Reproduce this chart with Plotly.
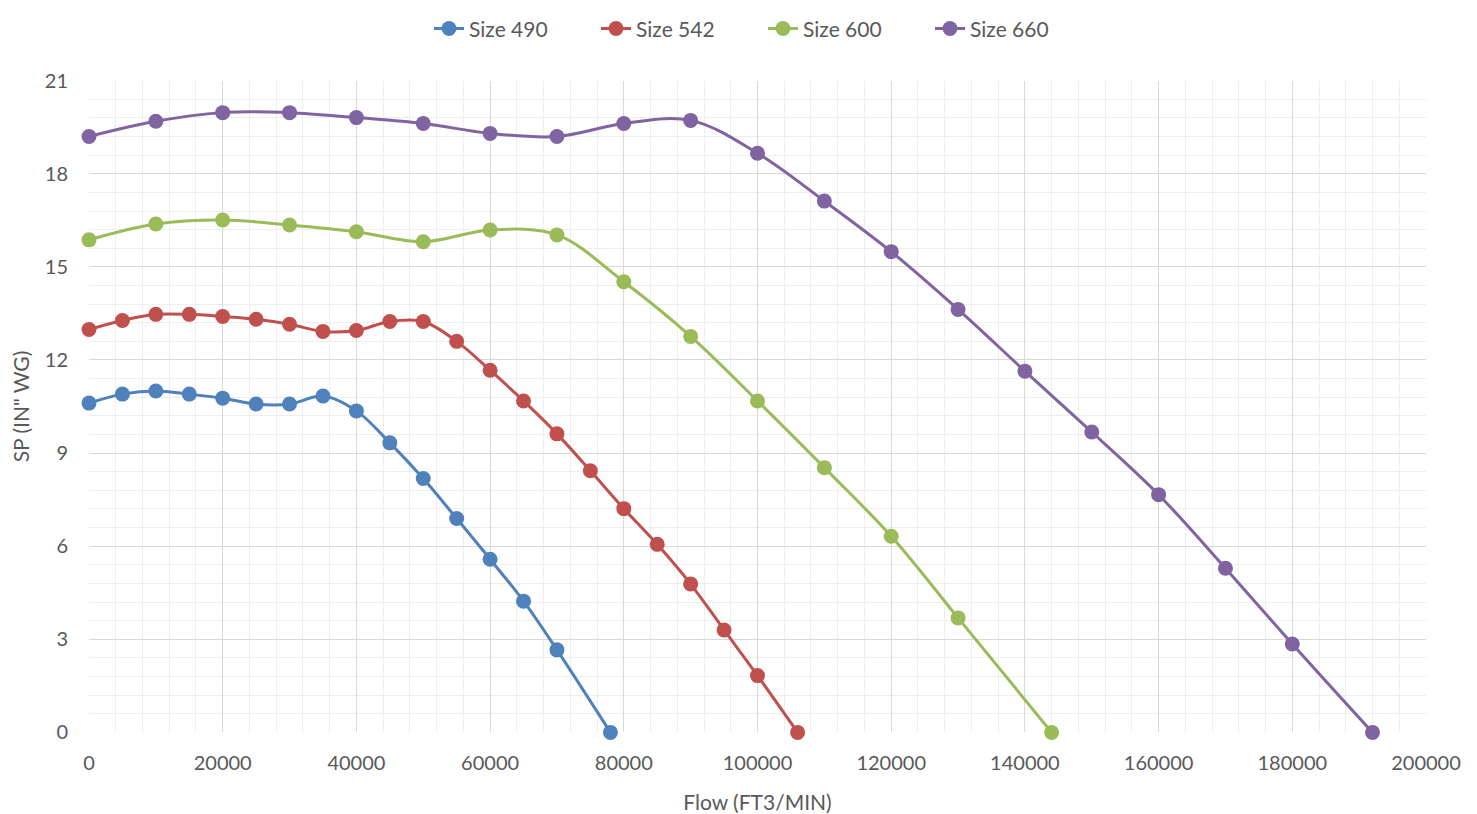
import plotly.graph_objects as go

flow_490 = [0, 5000, 10000, 15000, 20000, 25000, 30000, 35000, 40000, 45000, 50000, 55000, 60000, 65000, 70000, 78000]
sp_490 = [10.61, 10.90, 11.00, 10.90, 10.77, 10.58, 10.58, 10.84, 10.36, 9.33, 8.18, 6.89, 5.58, 4.23, 2.66, 0.0]

flow_542 = [0, 5000, 10000, 15000, 20000, 25000, 30000, 35000, 40000, 45000, 50000, 55000, 60000, 65000, 70000,
            75000, 80000, 85000, 90000, 95000, 100000, 106000]
sp_542 = [12.98, 13.27, 13.47, 13.47, 13.40, 13.31, 13.15, 12.92, 12.95, 13.24, 13.24, 12.60, 11.67, 10.68, 9.62,
          8.43, 7.21, 6.06, 4.78, 3.30, 1.83, 0.0]

flow_600 = [0, 10000, 20000, 30000, 40000, 50000, 60000, 70000, 80000, 90000, 100000, 110000, 120000, 130000, 144000]
sp_600 = [15.87, 16.38, 16.51, 16.35, 16.13, 15.81, 16.19, 16.03, 14.52, 12.76, 10.68, 8.53, 6.32, 3.69, 0.0]

flow_660 = [0, 10000, 20000, 30000, 40000, 50000, 60000, 70000, 80000, 90000, 100000, 110000, 120000, 130000,
            140000, 150000, 160000, 170000, 180000, 192000]
sp_660 = [19.20, 19.69, 19.97, 19.97, 19.81, 19.62, 19.30, 19.20, 19.62, 19.72, 18.66, 17.12, 15.49, 13.63,
          11.64, 9.68, 7.66, 5.29, 2.85, 0.0]

series = [
    ("Size 490", flow_490, sp_490, "#4F81BD"),
    ("Size 542", flow_542, sp_542, "#C0504D"),
    ("Size 600", flow_600, sp_600, "#9BBB59"),
    ("Size 660", flow_660, sp_660, "#8064A2"),
]

FONT = "Lato, 'Open Sans', sans-serif"
TXT = "#595959"

W, H = 1469, 806
PL, PR, PT, PB = 81, 1418, 69, 724  # plot area edges in figure pixels

fig = go.Figure()
for name, xs, ys, col in series:
    fig.add_trace(go.Scatter(
        x=xs, y=ys, name=name, mode="lines+markers",
        line=dict(color=col, width=3, shape="spline", smoothing=1),
        marker=dict(color=col, size=15),
        cliponaxis=False,
    ))

fig.update_layout(
    autosize=False,
    width=W, height=H,
    margin=dict(l=0, r=0, t=0, b=0, pad=0),
    paper_bgcolor="white", plot_bgcolor="white",
    font=dict(family=FONT, size=20, color=TXT),
    showlegend=True,
    legend=dict(orientation="h", x=421 / W, xanchor="left",
                y=1 - 17 / H, yanchor="middle", font=dict(size=21, color=TXT),
                entrywidth=122, entrywidthmode="pixels",
                bgcolor="rgba(0,0,0,0)"),
    xaxis=dict(
        domain=[PL / W, PR / W],
        range=[0, 200000], dtick=20000, tick0=0, showline=False, zeroline=False,
        tickformat="d", tickangle=0, automargin=False,
        gridcolor="#D9D9D9", gridwidth=1, ticks="", ticklabelstandoff=17,
        tickfont=dict(size=20, color=TXT),
        minor=dict(dtick=4000, showgrid=True, gridcolor="#EEEEEE", gridwidth=1),
        title=dict(text="Flow (FT3/MIN)", font=dict(size=21, color=TXT), standoff=22),
    ),
    yaxis=dict(
        domain=[(H - PB) / H, (H - PT) / H],
        range=[0, 21], dtick=3, tick0=0, showline=False, zeroline=False,
        automargin=False,
        gridcolor="#D9D9D9", gridwidth=1, ticks="", ticklabelstandoff=20,
        tickfont=dict(size=20, color=TXT),
        minor=dict(dtick=0.6, showgrid=True, gridcolor="#EEEEEE", gridwidth=1),
        title=dict(text="SP (IN\" WG)", font=dict(size=21, color=TXT), standoff=10),
    ),
)

fig.write_html("out.html")
